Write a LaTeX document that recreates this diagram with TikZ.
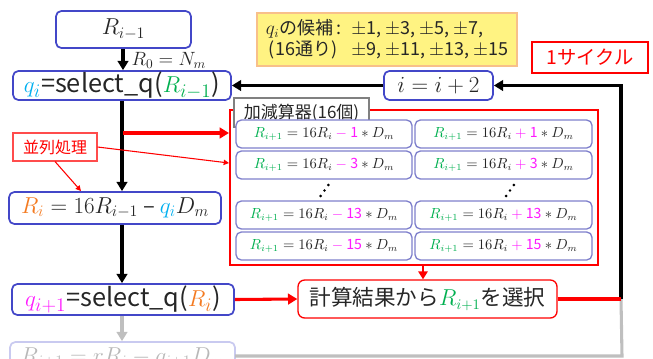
\documentclass[tikz,border=0pt]{standalone}
\usepackage[no-math]{fontspec}
\setmainfont{Noto Sans CJK JP}
\usetikzlibrary{arrows.meta}
\definecolor{bbl}{HTML}{4347C8}
\definecolor{sbl}{HTML}{7F80CC}
\definecolor{grn}{HTML}{00B050}
\definecolor{mag}{HTML}{FF19FF}
\definecolor{cyn}{HTML}{00B0F0}
\definecolor{org}{HTML}{F47A20}
\definecolor{txt}{HTML}{262626}
\definecolor{ylw}{HTML}{FFF382}
\definecolor{ybd}{HTML}{F8C08A}
\definecolor{fad}{HTML}{C9CAF0}
\definecolor{fadt}{HTML}{B8B8B8}
\definecolor{gln}{HTML}{BFBFBF}
\newcommand\smeq[2]{$\textcolor{grn}{R_{i+1}} = 16R_i \mathbin{\textcolor{mag}{#1}} \textcolor{mag}{\mbox{#2}} \ast D_m$}
\begin{document}
\begin{tikzpicture}[x=0.75pt,y=-0.75pt,
  sz/.style 2 args={minimum width=#1*0.75pt, minimum height=#2*0.75pt, inner sep=0pt},
  bbox/.style={draw=bbl, line width=1.3pt, rounded corners=4pt, fill=white, text=txt},
  sbox/.style={draw=sbl, line width=1pt, rounded corners=4pt, fill=white, text=txt, font=\fontsize{10.6}{12}\selectfont},
  blk/.style={line width=2.3pt, -{Triangle[length=7pt,width=8pt]}},
  rthick/.style={draw=red, line width=2.3pt, -{Triangle[length=7pt,width=8pt]}},
  rthin/.style={draw=red, line width=0.8pt, -{Triangle[length=4pt,width=4pt]}},
  main/.style={font=\fontsize{16.5}{18}\selectfont},
  sel/.style={font=\fontsize{19}{21}\selectfont},
]
\useasboundingbox (0,0) rectangle (653,358);
\clip (0,0) rectangle (653,358);

% big red frame with adders
\node[draw=red, line width=1.5pt, sz={368}{155}] (redbox) at (414,187.5) {};
\node[draw=gray, line width=0.8pt, fill=white, sz={135}{29}, font=\fontsize{12.75}{14}\selectfont, text=txt] (lab) at (301.5,112.5) {加減算器(16個)};
\node[sbox, sz={176}{28}] (a1) at (324,134) {\smeq{-}{1}};
\node[sbox, sz={177}{28}] (b1) at (503.5,134) {\smeq{+}{1}};
\node[sbox, sz={176}{28}] (a2) at (324,165) {\smeq{-}{3}};
\node[sbox, sz={177}{28}] (b2) at (503.5,165) {\smeq{+}{3}};
\node[sbox, sz={176}{28}] (a3) at (324,215) {\smeq{-}{13}};
\node[sbox, sz={177}{28}] (b3) at (503.5,215) {\smeq{+}{13}};
\node[sbox, sz={176}{28}] (a4) at (324,246) {\smeq{-}{15}};
\node[sbox, sz={177}{28}] (b4) at (503.5,246) {\smeq{+}{15}};
\foreach \x in {0,185.5}{
  \fill (320.7+\x,196) circle[radius=1.1pt];
  \fill (324.5+\x,190.5) circle[radius=1.1pt];
  \fill (328.3+\x,185) circle[radius=1.1pt];
}

% left column
\node[bbox, sz={135}{37}, main] (rm1) at (123.5,29.5) {$R_{i-1}$};
\node[bbox, sz={218}{29}, sel] (selq) at (122,85.5) {$\textcolor{cyn}{q_i}$=select\_q($\textcolor{grn}{R_{i-1}}$)};
\node[bbox, sz={212}{32}, main] (ri) at (115,208) {$\textcolor{org}{R_i} = 16R_{i-1}$ – $\textcolor{cyn}{q_i}D_m$};
\node[bbox, sz={222}{31}, sel] (qi1) at (123,299.5) {$\textcolor{mag}{q_{i+1}}$=select\_q($\textcolor{org}{R_i}$)};
\node[draw=fad, line width=1.3pt, rounded corners=4pt, fill=white, sz={225}{32}, main, text=fadt] (nxt) at (122.5,358) {$R_{i+1} = rR_i - q_{i+1}D_m$};

\node[font=\fontsize{14}{16}\selectfont, text=txt, anchor=west] (r0) at (127,60) {$R_0 = N_m$};

% right side
\node[draw=ybd, line width=0.8pt, fill=ylw, sz={260}{53}, font=\fontsize{13.5}{15.75}\selectfont, text=txt, align=left] (cand) at (387,39.5)
  {\makebox[64pt][l]{$q_i$の候補\,:}$\pm$1, $\pm$3, $\pm$5, $\pm$7,\\
   \makebox[64pt][l]{\,(16通り)}$\pm$9, $\pm$11, $\pm$13, $\pm$15};
\node[draw=red, line width=1.8pt, fill=white, sz={116}{31}, font=\fontsize{14.5}{16}\selectfont, text=red] (cyc) at (590,57.5) {1サイクル};
\node[bbox, sz={109}{29}, font=\fontsize{17}{19}\selectfont] (inc) at (438.5,85.5) {$i = i + 2$};
\node[draw=red, line width=1pt, rounded corners=5pt, fill=white, sz={259}{38}, font=\fontsize{16.2}{18}\selectfont, text=txt] (calc) at (427.5,299) {計算結果から$\textcolor{grn}{R_{i+1}}$を選択};
\node[draw=red!70, line width=0.8pt, fill=white, sz={84}{28}, font=\fontsize{12}{14}\selectfont, text=red] (para) at (55,147) {並列処理};

% coordinates
\coordinate (br) at (123,133);
\coordinate (pe) at (229,163);
\coordinate (pr) at (81,191);
\coordinate (rb) at (423,265);
\coordinate (ret) at (621,299);
\coordinate (g1) at (622,356);
\coordinate (g0) at (235,356);

% connectors
\draw[blk] (rm1.south -| 123,0) -- (selq.north -| 123,0);
\draw[blk] (selq.south -| 122,0) -- (ri.north -| 122,0);
\draw[blk] (ri.south -| 122,0) -- (qi1.north -| 122,0);
\draw[line width=2.3pt, draw=gln, -{Triangle[length=7pt,width=8pt]}] (qi1.south -| 122,0) -- (nxt.north -| 122,0);
\draw[rthick] (br) -- (redbox.west |- br);
\draw[rthin] (para.east) -- (pe);
\draw[rthin] (para.south) -- (pr);
\draw[draw=red, line width=1.8pt, -{Triangle[length=6pt,width=7pt]}] (rb) -- (rb |- calc.north);
\draw[rthick] (qi1.east) -- (calc.west);
\draw[draw=gln, line width=2.3pt] (g0) -- (g1) -- (ret);
\draw[line width=2.3pt, -{Triangle[length=7pt,width=8pt]}] (ret) -- (ret |- inc.east) -- (inc.east);
\draw[draw=red, line width=2.3pt] (calc.east) -- (ret);
\draw[blk] (inc.west) -- (selq.east);
\end{tikzpicture}
\end{document}
